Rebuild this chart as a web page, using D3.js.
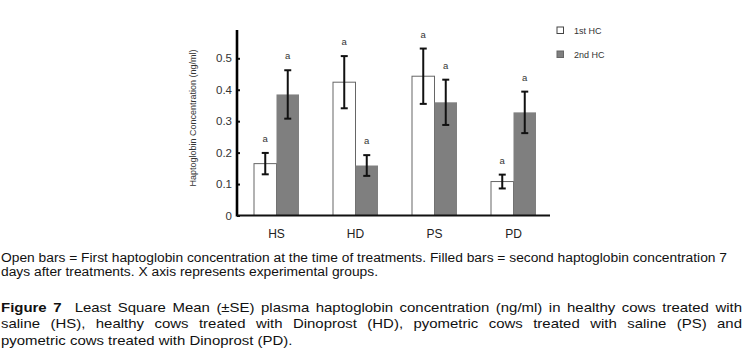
<!DOCTYPE html>
<html>
<head>
<meta charset="utf-8">
<script src="https://cdn.jsdelivr.net/npm/d3@7"></script>
<style>
  body { margin: 0; background: #fff; }
  svg text { font-family: "Liberation Sans", Arial, sans-serif; }
</style>
</head>
<body>
<div id="chart"></div>
<script>
// data
const groups = ["HS", "HD", "PS", "PD"];
const firstHC = [0.165, 0.424, 0.443, 0.108];
const firstSE = [0.034, 0.083, 0.088, 0.022];
const secondHC = [0.385, 0.159, 0.360, 0.328];
const secondSE = [0.077, 0.033, 0.072, 0.066];
const firstLetters = ["a", "a", "a", "a"];
const secondLetters = ["a", "a", "a", "a"];
const yTicks = [0, 0.1, 0.2, 0.3, 0.4, 0.5];
const seriesNames = ["1st HC", "2nd HC"];

const captionLines = [
  "Open bars = First haptoglobin concentration at the time of treatments. Filled bars = second haptoglobin concentration 7",
  "days after treatments. X axis represents experimental groups."
];
const figureLines = [
  "Least Square Mean (\u00b1SE) plasma haptoglobin concentration (ng/ml) in healthy cows treated with",
  "saline (HS), healthy cows treated with Dinoprost (HD), pyometric cows treated with saline (PS) and",
  "pyometric cows treated with Dinoprost (PD)."
];

const width = 747, height = 359;
const barW = 22.5;

const svg = d3.select("#chart").append("svg")
  .attr("width", width)
  .attr("height", height);

const x = d3.scaleBand().domain(groups).range([237, 553]).padding(0);
const y = d3.scaleLinear().domain([0, 0.59]).range([215.5, 30]);

const rows = groups.map((g, i) => ({
  g,
  v1: firstHC[i], e1: firstSE[i], l1: firstLetters[i],
  v2: secondHC[i], e2: secondSE[i], l2: secondLetters[i]
}));

// bars
const grp = svg.append("g").selectAll("g").data(rows).join("g")
  .attr("transform", d => `translate(${x(d.g) + x.bandwidth() / 2},0)`);

grp.append("rect")
  .attr("x", -barW).attr("width", barW)
  .attr("y", d => y(d.v1)).attr("height", d => y(0) - y(d.v1))
  .attr("fill", "#fff").attr("stroke", "#666").attr("stroke-width", 1);

grp.append("rect")
  .attr("x", 0).attr("width", barW)
  .attr("y", d => y(d.v2)).attr("height", d => y(0) - y(d.v2))
  .attr("fill", "#7f7f7f");

// error bars
function errBar(sel, cx, v, e) {
  const g = sel.append("g").attr("stroke", "#111").attr("stroke-width", 2);
  g.append("line").attr("x1", cx).attr("x2", cx)
    .attr("y1", d => y(v(d) + e(d))).attr("y2", d => y(v(d) - e(d)));
  g.append("line").attr("x1", cx - 3.5).attr("x2", cx + 3.5)
    .attr("y1", d => y(v(d) + e(d))).attr("y2", d => y(v(d) + e(d)));
  g.append("line").attr("x1", cx - 3.5).attr("x2", cx + 3.5)
    .attr("y1", d => y(v(d) - e(d))).attr("y2", d => y(v(d) - e(d)));
}
errBar(grp, -barW / 2, d => d.v1, d => d.e1);
errBar(grp, barW / 2, d => d.v2, d => d.e2);

// significance letters
grp.append("text")
  .attr("x", -barW / 2).attr("y", d => y(d.v1 + d.e1) - 11)
  .attr("text-anchor", "middle").style("font-size", "9.5px").attr("fill", "#333")
  .text(d => d.l1);
grp.append("text")
  .attr("x", barW / 2).attr("y", d => y(d.v2 + d.e2) - 11)
  .attr("text-anchor", "middle").style("font-size", "9.5px").attr("fill", "#333")
  .text(d => d.l2);

// y axis
const yAxis = svg.append("g")
  .attr("transform", "translate(237,0)")
  .call(d3.axisLeft(y).tickValues(yTicks).tickSize(-3).tickPadding(5)
    .tickFormat(d => d === 0 ? "0" : d3.format(".1f")(d)));
yAxis.select(".domain").remove();
yAxis.selectAll(".tick line").attr("stroke", "#111").attr("stroke-width", 2);
yAxis.selectAll(".tick text").style("font-size", "11.5px").attr("fill", "#333");
yAxis.append("line")
  .attr("x1", 0).attr("x2", 0).attr("y1", y.range()[1]).attr("y2", y(0) + 1)
  .attr("stroke", "#000").attr("stroke-width", 2.6);

// baseline
svg.append("line")
  .attr("x1", 237).attr("x2", 550).attr("y1", y(0)).attr("y2", y(0))
  .attr("stroke", "#111").attr("stroke-width", 2);

// category labels
svg.append("g").selectAll("text").data(groups).join("text")
  .attr("x", d => x(d) + x.bandwidth() / 2)
  .attr("y", 238)
  .attr("text-anchor", "middle")
  .style("font-size", "12px").attr("fill", "#222")
  .text(d => d);

// y title
svg.append("text")
  .attr("transform", "translate(196,118) rotate(-90)")
  .attr("text-anchor", "middle")
  .style("font-size", "9px").attr("fill", "#333")
  .text("Haptoglobin Concentration (ng/ml)");

// legend
const legend = svg.append("g").selectAll("g").data(seriesNames).join("g")
  .attr("transform", (d, i) => `translate(557,${27 + i * 24})`);
legend.append("rect")
  .attr("width", 6.5).attr("height", 6.5)
  .attr("fill", (d, i) => i === 0 ? "#fff" : "#7f7f7f")
  .attr("stroke", (d, i) => i === 0 ? "#444" : "#666").attr("stroke-width", 1);
legend.append("text")
  .attr("x", 17).attr("y", 7)
  .style("font-size", "9px").attr("fill", "#333")
  .text(d => d);

// captions
const cap = svg.append("g").attr("fill", "#111");
cap.selectAll("text").data(captionLines).join("text")
  .attr("x", 1).attr("y", (d, i) => 262 + i * 14)
  .style("font-size", "12.5px")
  .attr("textLength", (d, i) => i === 0 ? 726 : 377)
  .attr("lengthAdjust", "spacingAndGlyphs")
  .text(d => d);

// figure legend: text looks horizontally stretched in the original
const sx = 1.15;
const fig = svg.append("g").attr("fill", "#111")
  .attr("transform", `translate(1,0) scale(${sx},1)`);
const figText = fig.selectAll("text").data(figureLines).join("text")
  .attr("x", 0).attr("y", (d, i) => 312 + i * 16.5)
  .style("font-size", "13px");
figText.each(function(d, i) {
  const t = d3.select(this);
  if (i === 0) {
    t.append("tspan").style("font-weight", "bold").text("Figure 7");
    t.append("tspan").text("\u00a0\u00a0" + d);
  } else {
    t.text(d);
  }
  const natural = this.getComputedTextLength();
  if (i < 2) {
    // justify to the right margin
    const spaces = (this.textContent.match(/[ \u00a0]/g) || []).length;
    const extra = (741 / sx - natural) / spaces;
    t.style("word-spacing", extra + "px");
  }
});
</script>
</body>
</html>
